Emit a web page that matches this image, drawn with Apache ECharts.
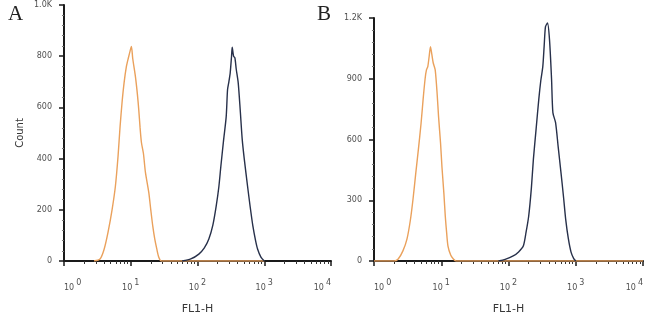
<!DOCTYPE html>
<html>
<head>
<meta charset="utf-8">
<script src="https://cdn.jsdelivr.net/npm/echarts@6/dist/echarts.min.js"></script>
<style>html,body{margin:0;padding:0;background:#fff;}#c{width:650px;height:320px;}</style>
</head>
<body>
<div id="c"></div>
<script>
// x values are log10(FL1-H); y values are counts
var decades = [0, 1, 2, 3, 4];
var minorFactors = [2, 3, 4, 5, 6, 7, 8, 9];
var yTicksA = ['0', '200', '400', '600', '800', '1.0K'];
var yTicksB = ['0', '300', '600', '900', '1.2K'];

var orangeA = [[0.45,0],[0.54,8],[0.60,45],[0.66,113],[0.72,200],[0.77,292],[0.81,410],[0.84,525],[0.87,620],[0.90,696],[0.935,760],[0.965,794],[0.99,820],[1.01,838],[1.03,790],[1.07,720],[1.10,650],[1.12,591],[1.14,520],[1.16,463],[1.19,420],[1.22,346],[1.27,268],[1.30,200],[1.33,136],[1.36,85],[1.39,47],[1.42,15],[1.46,0],[3.0,0]];
var blueA = [[1.77,0],[1.90,8],[2.02,27],[2.10,50],[2.17,86],[2.23,140],[2.28,214],[2.32,290],[2.35,370],[2.39,470],[2.43,564],[2.45,669],[2.47,700],[2.49,735],[2.51,800],[2.52,835],[2.54,800],[2.56,794],[2.58,750],[2.61,696],[2.64,590],[2.67,475],[2.70,400],[2.75,292],[2.79,210],[2.83,136],[2.87,80],[2.90,47],[2.95,15],[3.0,0]];
var orangeB = [[0.0,0],[0.30,0],[0.36,10],[0.43,50],[0.49,108],[0.54,200],[0.58,305],[0.62,430],[0.66,551],[0.70,680],[0.73,797],[0.76,900],[0.78,944],[0.80,960],[0.82,1010],[0.84,1058],[0.86,1020],[0.88,979],[0.91,944],[0.94,820],[0.96,713],[0.99,580],[1.01,467],[1.04,330],[1.06,221],[1.08,140],[1.10,74],[1.14,30],[1.18,10],[1.22,0],[4.0,0]];
var blueB = [[1.85,0],[1.95,8],[2.07,25],[2.15,45],[2.22,74],[2.26,140],[2.30,221],[2.34,360],[2.37,502],[2.41,650],[2.45,797],[2.48,890],[2.51,960],[2.53,1060],[2.55,1157],[2.58,1175],[2.61,1092],[2.64,900],[2.66,733],[2.70,683],[2.74,560],[2.78,438],[2.82,310],[2.85,207],[2.89,110],[2.93,44],[2.97,12],[3.0,0]];

var minorVals = [];
decades.slice(0, 4).forEach(function (d) {
  minorFactors.forEach(function (f) { minorVals.push(d + Math.log10(f)); });
});

var FONT = 'DejaVu Sans, sans-serif';
var ORANGE = '#eaa15c';
var BLUE = '#27304a';
var AXIS = '#1a1a1a';
var LBL = '#505050';

function majorX(grid) {
  return {
    type: 'value', gridIndex: grid, min: 0, max: 4, interval: 1,
    position: 'bottom',
    axisLine: { show: true, onZero: false, lineStyle: { color: AXIS, width: 2 } },
    axisTick: { show: true, length: 5, lineStyle: { color: AXIS, width: 1.5 } },
    splitLine: { show: false },
    axisLabel: {
      margin: 18, color: LBL, fontFamily: FONT,
      alignMinLabel: 'left', alignMaxLabel: 'right',
      formatter: function (v) { return '{b|10}{s|' + Math.round(v) + '}'; },
      rich: {
        b: { fontSize: 8, fontFamily: FONT, color: LBL, verticalAlign: 'bottom', padding: [5, 0, 0, 0] },
        s: { fontSize: 8, fontFamily: FONT, color: LBL, verticalAlign: 'top', padding: [0, 0, 0, 2] }
      }
    },
    name: 'FL1-H', nameLocation: 'middle', nameGap: 43,
    nameTextStyle: { fontSize: 11, fontFamily: FONT, color: '#383838' }
  };
}
function minorX(grid) {
  return {
    type: 'value', gridIndex: grid, min: 0, max: 4,
    position: 'bottom',
    axisLine: { show: false },
    axisTick: { show: true, length: 3, customValues: minorVals, lineStyle: { color: '#333', width: 1 } },
    axisLabel: { show: false },
    splitLine: { show: false }
  };
}
function yAxis(grid, max, interval, labels, withName) {
  var o = {
    type: 'value', gridIndex: grid, min: 0, max: max, interval: interval,
    axisLine: { show: true, lineStyle: { color: AXIS, width: 2 } },
    axisTick: { show: true, length: 5, lineStyle: { color: AXIS, width: 1.5 } },
    minorTick: { show: true, splitNumber: 5, length: 2, lineStyle: { color: '#777' } },
    splitLine: { show: false },
    axisLabel: {
      margin: 12, fontSize: 8, color: LBL, fontFamily: FONT,
      formatter: function (v) { return labels[Math.round(v / interval)]; }
    }
  };
  if (withName) {
    o.name = 'Count'; o.nameLocation = 'middle'; o.nameGap = 39;
    o.nameTextStyle = { fontSize: 10, fontFamily: FONT, color: '#383838' };
  }
  return o;
}
function line(data, color, xi, yi) {
  return {
    type: 'line', data: data, xAxisIndex: xi, yAxisIndex: yi,
    showSymbol: false, smooth: 0.25, silent: true,
    lineStyle: { color: color, width: 1.4 }, z: 3
  };
}

var chart = echarts.init(document.getElementById('c'), null, { renderer: 'canvas' });
chart.setOption({
  animation: false,
  backgroundColor: '#fff',
  title: [
    { text: 'A', left: 8, top: 4, padding: 0, textStyle: { fontFamily: 'Liberation Serif, serif', fontSize: 21, fontWeight: 'normal', color: '#222' } },
    { text: 'B', left: 317, top: 4, padding: 0, textStyle: { fontFamily: 'Liberation Serif, serif', fontSize: 21, fontWeight: 'normal', color: '#222' } }
  ],
  grid: [
    { left: 64, right: 319, top: 5, bottom: 58 },
    { left: 374, right: 7, top: 18, bottom: 58 }
  ],
  xAxis: [majorX(0), minorX(0), majorX(1), minorX(1)],
  yAxis: [yAxis(0, 1000, 200, yTicksA, true), yAxis(1, 1200, 300, yTicksB, false)],
  series: [
    line(orangeA, ORANGE, 0, 0),
    line(blueA, BLUE, 0, 0),
    line(orangeB, ORANGE, 2, 1),
    line(blueB, BLUE, 2, 1)
  ]
});
</script>
</body>
</html>
